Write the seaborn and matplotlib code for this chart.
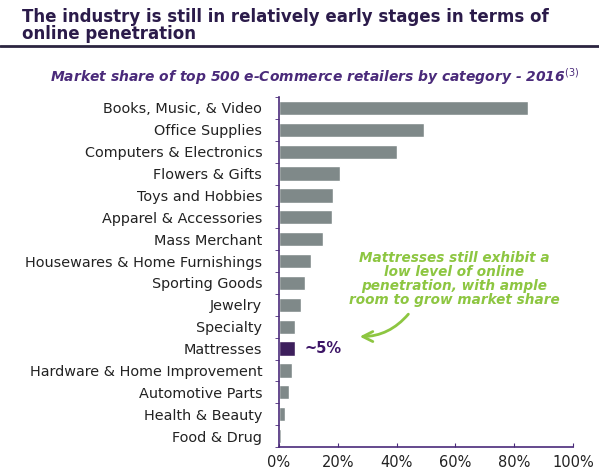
import pandas as pd
import matplotlib.pyplot as plt
import seaborn as sns

categories = ['Books, Music, & Video', 'Office Supplies', 'Computers & Electronics',
              'Flowers & Gifts', 'Toys and Hobbies', 'Apparel & Accessories',
              'Mass Merchant', 'Housewares & Home Furnishings', 'Sporting Goods',
              'Jewelry', 'Specialty', 'Mattresses', 'Hardware & Home Improvement',
              'Automotive Parts', 'Health & Beauty', 'Food & Drug']
share = [84.7, 49.3, 40.1, 20.7, 18.4, 18.0, 14.9, 10.9, 8.8,
         7.5, 5.4, 5.4, 4.4, 3.4, 2.0, 0.7]
x_ticks = [0, 20, 40, 60, 80, 100]
x_labels = ['0%', '20%', '40%', '60%', '80%', '100%']

df = pd.DataFrame({'category': categories, 'share': share})
df['group'] = ['focus' if c == 'Mattresses' else 'other' for c in categories]

sns.set_style('white')
plt.rcParams['font.family'] = ['DejaVu Sans']

purple = '#4a2a7a'
fig = plt.figure(figsize=(5.99, 4.70), dpi=100)
ax = fig.add_axes([0.4658, 0.0489, 0.4908, 0.7447])

sns.barplot(data=df, x='share', y='category', hue='group', dodge=False,
            palette={'other': '#7d8b8b', 'focus': '#3d1566'}, legend=False,
            width=0.65, ax=ax)

ax.set_xlim(0, 100)
ax.set_ylim(len(categories) - 0.5, -0.5)
ax.set_xticks(x_ticks)
ax.set_xticklabels(x_labels, fontsize=10.5, color='#222222')
ax.set_xlabel('')
ax.set_ylabel('')
ax.tick_params(axis='y', length=0, labelsize=10.4, labelcolor='#222222', pad=12)
ax.set_yticks([i - 0.5 for i in range(len(categories) + 1)], minor=True)
ax.tick_params(axis='y', which='minor', length=3, color=purple, direction='out', left=True)
ax.tick_params(axis='x', length=3, color=purple, direction='in', bottom=True, pad=6)
sns.despine(ax=ax)
for s in ['left', 'bottom']:
    ax.spines[s].set_color(purple)
    ax.spines[s].set_linewidth(1.2)

# ~5% label next to mattresses
ax.text(8.5, 11, '~5%', va='center', ha='left', fontsize=10.5, fontweight='bold', color='#3d1566')

# green callout
ax.text(59.5, 7.8, 'Mattresses still exhibit a\nlow level of online\npenetration, with ample\nroom to grow market share',
        ha='center', va='center', fontsize=9.8, fontweight='bold', style='italic',
        color='#8dc641', linespacing=1.0)
ax.annotate('', xy=(26.5, 10.45), xytext=(44.6, 9.33),
            arrowprops=dict(arrowstyle='->', color='#8dc641', lw=2,
                            connectionstyle='arc3,rad=-0.25', mutation_scale=18))

# header
fig.text(0.037, 1 - 22 / 470, 'The industry is still in relatively early stages in terms of',
         ha='left', va='baseline', fontsize=12.0, fontweight='bold', color='#2b1b4a')
fig.text(0.037, 1 - 39 / 470, 'online penetration',
         ha='left', va='baseline', fontsize=12.0, fontweight='bold', color='#2b1b4a')
fig.add_artist(plt.Line2D([0, 1], [1 - 46 / 470, 1 - 46 / 470], color='#2b2540', lw=2))
fig.text(0.0835, 1 - 77 / 470, 'Market share of top 500 e-Commerce retailers by category - 2016$^{(3)}$',
         ha='left', va='center', fontsize=10.0, fontweight='bold', style='italic', color=purple)

fig.savefig('out.png', dpi=100)
